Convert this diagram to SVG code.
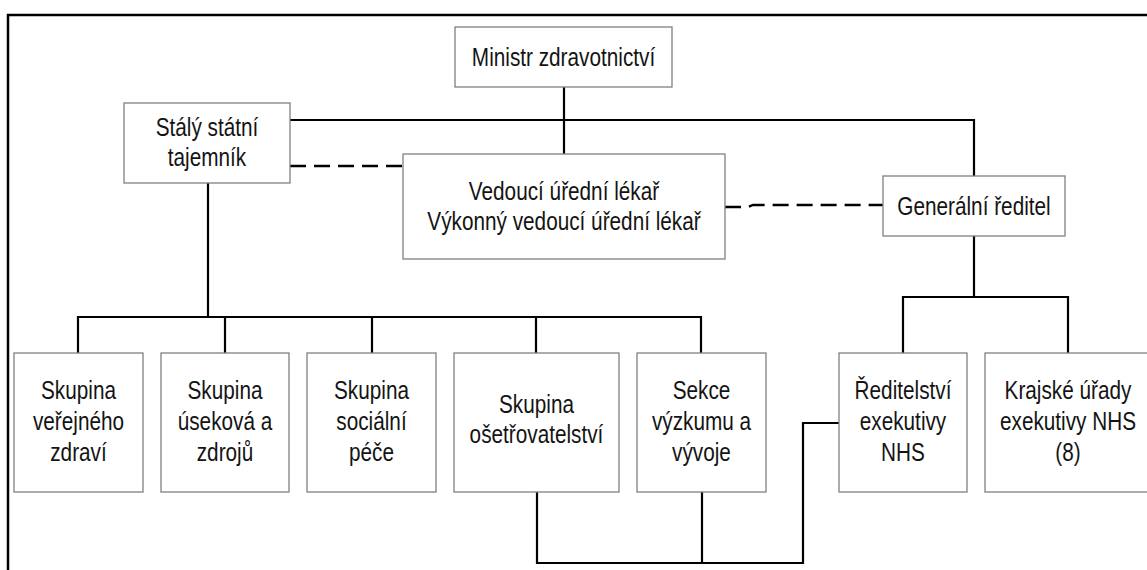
<svg xmlns="http://www.w3.org/2000/svg" width="1147" height="570" viewBox="0 0 1147 570">
<style>
.box{fill:#fff;stroke:#808080;stroke-width:1.3}
.t{font-family:"Liberation Sans",Arial,sans-serif;font-size:25px;fill:#141414;text-anchor:middle}
.ln{fill:none;stroke:#000;stroke-width:2.2}
.dash{fill:none;stroke:#000;stroke-width:2.4;stroke-dasharray:16 8}
.frame{fill:none;stroke:#000;stroke-width:2.5}
</style>
<rect width="1147" height="570" fill="#fff"/>
<path class="frame" d="M8,570 V15 H1147"/>
<g id="connectors">
<path class="ln" d="M564,87 V154"/>
<path class="ln" d="M290,120 H974 V176"/>
<path class="ln" d="M208,183 V317"/>
<path class="ln" d="M78,353 V317 H701 V353"/>
<path class="ln" d="M225,317 V353 M372,317 V353 M536,317 V353"/>
<path class="ln" d="M974,236 V297"/>
<path class="ln" d="M903,353 V297 H1068 V353"/>
<path class="ln" d="M537,492 V563 H803 V423 H839"/>
<path class="ln" d="M702,492 V563"/>
<path class="dash" d="M290,166 H402"/>
<path class="dash" d="M725,207 H748 L753,205 H883"/>
</g>
<g id="minister">
<rect class="box" x="455" y="27" width="217" height="60"/>
<text class="t" transform="translate(563.5,66) scale(0.83,1)">Ministr zdravotnictví</text>
</g>
<g id="staly">
<rect class="box" x="124" y="103" width="166" height="80"/>
<text class="t" transform="translate(207,136) scale(0.83,1)">Stálý státní</text>
<text class="t" transform="translate(207,166) scale(0.83,1)">tajemník</text>
</g>
<g id="vedouci">
<rect class="box" x="403" y="154" width="322" height="105"/>
<text class="t" transform="translate(564,200) scale(0.83,1)">Vedoucí úřední lékař</text>
<text class="t" transform="translate(564,230) scale(0.83,1)">Výkonný vedoucí úřední lékař</text>
</g>
<g id="generalni">
<rect class="box" x="883" y="176" width="182" height="60"/>
<text class="t" transform="translate(974,215) scale(0.83,1)">Generální ředitel</text>
</g>
<g id="skupina-verejneho">
<rect class="box" x="14" y="353" width="129" height="139"/>
<text class="t" transform="translate(78.5,399) scale(0.83,1)">Skupina</text>
<text class="t" transform="translate(78.5,430) scale(0.83,1)">veřejného</text>
<text class="t" transform="translate(78.5,461) scale(0.83,1)">zdraví</text>
</g>
<g id="skupina-usekova">
<rect class="box" x="161" y="353" width="128" height="139"/>
<text class="t" transform="translate(225,399) scale(0.83,1)">Skupina</text>
<text class="t" transform="translate(225,430) scale(0.83,1)">úseková a</text>
<text class="t" transform="translate(225,461) scale(0.83,1)">zdrojů</text>
</g>
<g id="skupina-socialni">
<rect class="box" x="307" y="353" width="129" height="139"/>
<text class="t" transform="translate(371.5,399) scale(0.83,1)">Skupina</text>
<text class="t" transform="translate(371.5,430) scale(0.83,1)">sociální</text>
<text class="t" transform="translate(371.5,461) scale(0.83,1)">péče</text>
</g>
<g id="skupina-osetrovatelstvi">
<rect class="box" x="454" y="353" width="165" height="139"/>
<text class="t" transform="translate(536.5,413) scale(0.83,1)">Skupina</text>
<text class="t" transform="translate(536.5,443) scale(0.83,1)">ošetřovatelství</text>
</g>
<g id="sekce-vyzkumu">
<rect class="box" x="637" y="353" width="129" height="139"/>
<text class="t" transform="translate(701.5,399) scale(0.83,1)">Sekce</text>
<text class="t" transform="translate(701.5,430) scale(0.83,1)">výzkumu a</text>
<text class="t" transform="translate(701.5,461) scale(0.83,1)">vývoje</text>
</g>
<g id="reditelstvi-nhs">
<rect class="box" x="839" y="353" width="128" height="139"/>
<text class="t" transform="translate(903,399) scale(0.83,1)">Ředitelství</text>
<text class="t" transform="translate(903,430) scale(0.83,1)">exekutivy</text>
<text class="t" transform="translate(903,461) scale(0.83,1)">NHS</text>
</g>
<g id="krajske-urady">
<rect class="box" x="985" y="353" width="167" height="139"/>
<text class="t" transform="translate(1068,399) scale(0.83,1)">Krajské úřady</text>
<text class="t" transform="translate(1068,430) scale(0.83,1)">exekutivy NHS</text>
<text class="t" transform="translate(1068,461) scale(0.83,1)">(8)</text>
</g>
</svg>
